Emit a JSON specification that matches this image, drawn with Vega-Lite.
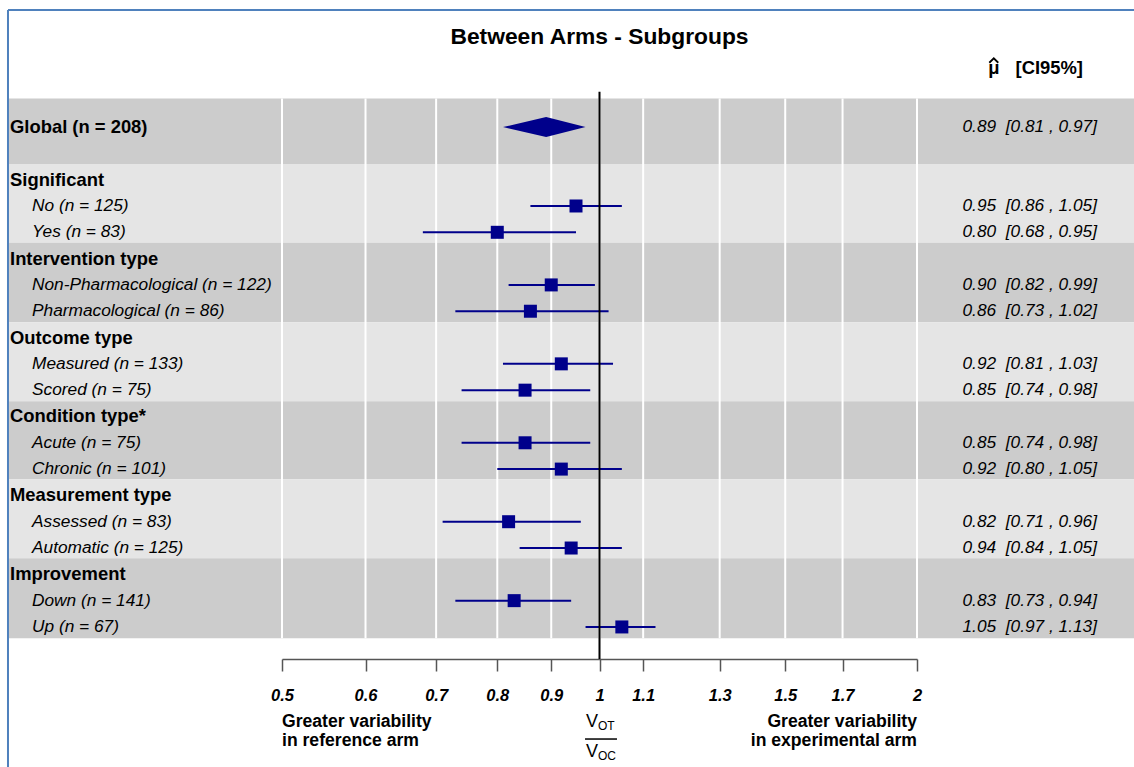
{
  "$schema": "https://vega.github.io/schema/vega-lite/v6.json",
  "width": 1134,
  "height": 767,
  "autosize": "none",
  "padding": 0,
  "background": "white",
  "config": {"view": {"stroke": null}, "text": {"font": "Liberation Sans", "color": "black"}},
  "datasets": {
    "rows": [
      {"label": "Global (n = 208)", "row": 1, "level": "global", "est": 0.89, "lo": 0.81, "hi": 0.97, "ci": "0.89\u00a0\u00a0[0.81 , 0.97]"},
      {"label": "Significant", "row": 3, "level": "group"},
      {"label": "No (n = 125)", "row": 4, "level": "item", "est": 0.95, "lo": 0.86, "hi": 1.05, "ci": "0.95\u00a0\u00a0[0.86 , 1.05]"},
      {"label": "Yes (n = 83)", "row": 5, "level": "item", "est": 0.80, "lo": 0.68, "hi": 0.95, "ci": "0.80\u00a0\u00a0[0.68 , 0.95]"},
      {"label": "Intervention type", "row": 6, "level": "group"},
      {"label": "Non-Pharmacological (n = 122)", "row": 7, "level": "item", "est": 0.90, "lo": 0.82, "hi": 0.99, "ci": "0.90\u00a0\u00a0[0.82 , 0.99]"},
      {"label": "Pharmacological (n = 86)", "row": 8, "level": "item", "est": 0.86, "lo": 0.73, "hi": 1.02, "ci": "0.86\u00a0\u00a0[0.73 , 1.02]"},
      {"label": "Outcome type", "row": 9, "level": "group"},
      {"label": "Measured (n = 133)", "row": 10, "level": "item", "est": 0.92, "lo": 0.81, "hi": 1.03, "ci": "0.92\u00a0\u00a0[0.81 , 1.03]"},
      {"label": "Scored (n = 75)", "row": 11, "level": "item", "est": 0.85, "lo": 0.74, "hi": 0.98, "ci": "0.85\u00a0\u00a0[0.74 , 0.98]"},
      {"label": "Condition type*", "row": 12, "level": "group"},
      {"label": "Acute (n = 75)", "row": 13, "level": "item", "est": 0.85, "lo": 0.74, "hi": 0.98, "ci": "0.85\u00a0\u00a0[0.74 , 0.98]"},
      {"label": "Chronic (n = 101)", "row": 14, "level": "item", "est": 0.92, "lo": 0.80, "hi": 1.05, "ci": "0.92\u00a0\u00a0[0.80 , 1.05]"},
      {"label": "Measurement type", "row": 15, "level": "group"},
      {"label": "Assessed (n = 83)", "row": 16, "level": "item", "est": 0.82, "lo": 0.71, "hi": 0.96, "ci": "0.82\u00a0\u00a0[0.71 , 0.96]"},
      {"label": "Automatic (n = 125)", "row": 17, "level": "item", "est": 0.94, "lo": 0.84, "hi": 1.05, "ci": "0.94\u00a0\u00a0[0.84 , 1.05]"},
      {"label": "Improvement", "row": 18, "level": "group"},
      {"label": "Down (n = 141)", "row": 19, "level": "item", "est": 0.83, "lo": 0.73, "hi": 0.94, "ci": "0.83\u00a0\u00a0[0.73 , 0.94]"},
      {"label": "Up (n = 67)", "row": 20, "level": "item", "est": 1.05, "lo": 0.97, "hi": 1.13, "ci": "1.05\u00a0\u00a0[0.97 , 1.13]"}
    ],
    "bands": [
      {"from": -0.09, "to": 2.42, "shade": "dark"},
      {"from": 2.42, "to": 5.4, "shade": "light"},
      {"from": 5.4, "to": 8.42, "shade": "dark"},
      {"from": 8.42, "to": 11.42, "shade": "light"},
      {"from": 11.42, "to": 14.39, "shade": "dark"},
      {"from": 14.39, "to": 17.39, "shade": "light"},
      {"from": 17.39, "to": 20.43, "shade": "dark"}
    ],
    "ticks": [{"v": 0.5}, {"v": 0.6}, {"v": 0.7}, {"v": 0.8}, {"v": 0.9}, {"v": 1}, {"v": 1.1}, {"v": 1.3}, {"v": 1.5}, {"v": 1.7}, {"v": 2}]
  },
  "layer": [
    {
      "data": {"name": "bands"},
      "mark": {"type": "rect"},
      "encoding": {
        "x": {"datum": 0.2749, "type": "quantitative", "title": null, "scale": {"type": "log", "domain": [0.5, 2], "range": [282, 917], "nice": false}},
        "x2": {"datum": 3.3},
        "y": {"field": "from", "type": "quantitative", "scale": {"domain": [0, 20], "range": [100.75, 626.95], "nice": false, "zero": false}, "axis": null},
        "y2": {"field": "to"},
        "color": {"field": "shade", "type": "nominal", "scale": {"domain": ["dark", "light"], "range": ["#CCCCCC", "#E5E5E5"]}, "legend": null}
      }
    },
    {
      "data": {"name": "ticks"},
      "mark": {"type": "rule", "color": "white", "strokeWidth": 2},
      "encoding": {
        "x": {"field": "v", "type": "quantitative", "title": null, "axis": {
          "values": [0.5, 0.6, 0.7, 0.8, 0.9, 1, 1.1, 1.3, 1.5, 1.7, 2],
          "format": "~g", "grid": false, "title": null, "offset": -108,
          "labelFont": "Liberation Sans", "labelFontSize": 16.5, "labelFontWeight": "bold", "labelFontStyle": "italic",
          "labelColor": "black", "domainColor": "#555555", "domainWidth": 1.5, "tickColor": "#555555", "tickWidth": 1.5,
          "tickSize": 12, "labelPadding": 16, "labelFlush": false, "labelOverlap": false, "labelBound": false
        }},
        "y": {"datum": -0.09, "type": "quantitative"},
        "y2": {"datum": 20.43}
      }
    },
    {
      "data": {"name": "rows"},
      "transform": [{"filter": "datum.level === 'item'"}],
      "mark": {"type": "rule", "color": "#00008B", "strokeWidth": 2},
      "encoding": {
        "x": {"field": "lo", "type": "quantitative", "title": null},
        "x2": {"field": "hi"},
        "y": {"field": "row", "type": "quantitative"}
      }
    },
    {
      "data": {"name": "rows"},
      "transform": [{"filter": "datum.level === 'item'"}],
      "mark": {"type": "point", "shape": "square", "filled": true, "size": 169, "color": "#00008B", "opacity": 1},
      "encoding": {
        "x": {"field": "est", "type": "quantitative", "title": null},
        "y": {"field": "row", "type": "quantitative"}
      }
    },
    {
      "data": {"name": "rows"},
      "transform": [{"filter": "datum.level === 'global'"}],
      "mark": {"type": "point", "shape": "M-1.045,0L0,-0.2425L0.955,0L0,0.2425Z", "filled": true, "size": 6806, "color": "#00008B", "opacity": 1},
      "encoding": {
        "x": {"field": "est", "type": "quantitative", "title": null},
        "y": {"field": "row", "type": "quantitative"}
      }
    },
    {
      "data": {"values": [{"ref": 1}]},
      "mark": {"type": "rule", "color": "black", "strokeWidth": 2},
      "encoding": {
        "x": {"field": "ref", "type": "quantitative", "title": null},
        "y": {"datum": -0.344, "type": "quantitative"},
        "y2": {"datum": 21.218}
      }
    },
    {
      "data": {"name": "rows"},
      "transform": [{"filter": "datum.level !== 'item'"}],
      "mark": {"type": "text", "align": "left", "baseline": "middle", "fontWeight": "bold", "fontSize": 18.4},
      "encoding": {
        "x": {"datum": 0.27612, "type": "quantitative", "title": null},
        "y": {"field": "row", "type": "quantitative"},
        "text": {"field": "label", "type": "nominal"}
      }
    },
    {
      "data": {"name": "rows"},
      "transform": [{"filter": "datum.level === 'item'"}],
      "mark": {"type": "text", "align": "left", "baseline": "middle", "fontStyle": "italic", "fontSize": 17.3},
      "encoding": {
        "x": {"datum": 0.2897, "type": "quantitative", "title": null},
        "y": {"field": "row", "type": "quantitative"},
        "text": {"field": "label", "type": "nominal"}
      }
    },
    {
      "data": {"name": "rows"},
      "transform": [{"filter": "datum.level !== 'group'"}],
      "mark": {"type": "text", "align": "right", "baseline": "middle", "fontStyle": "italic", "fontSize": 17.3},
      "encoding": {
        "x": {"datum": 2.9627, "type": "quantitative", "title": null},
        "y": {"field": "row", "type": "quantitative"},
        "text": {"field": "ci", "type": "nominal"}
      }
    },
    {
      "data": {"values": [{"t": "Between Arms - Subgroups"}]},
      "mark": {"type": "text", "align": "center", "baseline": "middle", "fontWeight": "bold", "fontSize": 22.8},
      "encoding": {
        "x": {"datum": 1, "type": "quantitative", "title": null},
        "y": {"datum": -2.442, "type": "quantitative"},
        "text": {"field": "t", "type": "nominal"}
      }
    },
    {
      "data": {"values": [{"t": "[CI95%]"}]},
      "mark": {"type": "text", "align": "right", "baseline": "middle", "fontWeight": "bold", "fontSize": 18.4},
      "encoding": {
        "x": {"datum": 2.8735, "type": "quantitative", "title": null},
        "y": {"datum": -1.226, "type": "quantitative"},
        "text": {"field": "t", "type": "nominal"}
      }
    },
    {
      "data": {"values": [{"t": "\u03bc"}]},
      "mark": {"type": "text", "align": "center", "baseline": "middle", "fontWeight": "bold", "fontSize": 18.4},
      "encoding": {
        "x": {"datum": 2.365, "type": "quantitative", "title": null},
        "y": {"datum": -1.226, "type": "quantitative"},
        "text": {"field": "t", "type": "nominal"}
      }
    },
    {
      "data": {"values": [{"accent": "hat"}]},
      "mark": {"type": "point", "shape": "M-1,0.5L0,-0.5L1,0.5", "filled": false, "size": 81, "color": "black", "strokeWidth": 1.8, "opacity": 1},
      "encoding": {
        "x": {"datum": 2.365, "type": "quantitative", "title": null},
        "y": {"datum": -1.53, "type": "quantitative"}
      }
    },
    {
      "data": {"values": [{"t": "Greater variability\nin reference arm"}]},
      "mark": {"type": "text", "align": "left", "baseline": "top", "fontWeight": "bold", "fontSize": 17.6, "lineBreak": "\n", "lineHeight": 19},
      "encoding": {
        "x": {"datum": 0.5, "type": "quantitative", "title": null},
        "y": {"datum": 23.27, "type": "quantitative"},
        "text": {"field": "t", "type": "nominal"}
      }
    },
    {
      "data": {"values": [{"t": "Greater variability\nin experimental arm"}]},
      "mark": {"type": "text", "align": "right", "baseline": "top", "fontWeight": "bold", "fontSize": 17.6, "lineBreak": "\n", "lineHeight": 19},
      "encoding": {
        "x": {"datum": 2, "type": "quantitative", "title": null},
        "y": {"datum": 23.27, "type": "quantitative"},
        "text": {"field": "t", "type": "nominal"}
      }
    },
    {
      "data": {"values": [{"t": "V"}]},
      "mark": {"type": "text", "align": "right", "baseline": "alphabetic", "fontSize": 18},
      "encoding": {
        "x": {"datum": 0.99675, "type": "quantitative", "title": null},
        "y": {"datum": 23.8, "type": "quantitative"},
        "text": {"field": "t", "type": "nominal"}
      }
    },
    {
      "data": {"values": [{"t": "V"}]},
      "mark": {"type": "text", "align": "right", "baseline": "alphabetic", "fontSize": 18},
      "encoding": {
        "x": {"datum": 0.99675, "type": "quantitative", "title": null},
        "y": {"datum": 24.95, "type": "quantitative"},
        "text": {"field": "t", "type": "nominal"}
      }
    },
    {
      "data": {"values": [{"t": "OT"}]},
      "mark": {"type": "text", "align": "left", "baseline": "alphabetic", "fontSize": 12},
      "encoding": {
        "x": {"datum": 0.99675, "type": "quantitative", "title": null},
        "y": {"datum": 23.92, "type": "quantitative"},
        "text": {"field": "t", "type": "nominal"}
      }
    },
    {
      "data": {"values": [{"t": "OC"}]},
      "mark": {"type": "text", "align": "left", "baseline": "alphabetic", "fontSize": 12},
      "encoding": {
        "x": {"datum": 0.99675, "type": "quantitative", "title": null},
        "y": {"datum": 25.07, "type": "quantitative"},
        "text": {"field": "t", "type": "nominal"}
      }
    },
    {
      "data": {"values": [{"bar": "fraction"}]},
      "mark": {"type": "rule", "color": "black", "strokeWidth": 1.5},
      "encoding": {
        "x": {"datum": 0.9689, "type": "quantitative", "title": null},
        "x2": {"datum": 1.0389},
        "y": {"datum": 24.26, "type": "quantitative"}
      }
    },
    {
      "data": {"values": [{"edge": "top"}]},
      "mark": {"type": "rule", "color": "#4F81BD", "strokeWidth": 2},
      "encoding": {
        "x": {"datum": 0.2749, "type": "quantitative", "title": null},
        "x2": {"datum": 3.3},
        "y": {"datum": -3.449, "type": "quantitative"}
      }
    },
    {
      "data": {"values": [{"edge": "left"}]},
      "mark": {"type": "rule", "color": "#4F81BD", "strokeWidth": 2},
      "encoding": {
        "x": {"datum": 0.2749, "type": "quantitative", "title": null},
        "y": {"datum": -3.449, "type": "quantitative"},
        "y2": {"datum": 26}
      }
    }
  ]
}
